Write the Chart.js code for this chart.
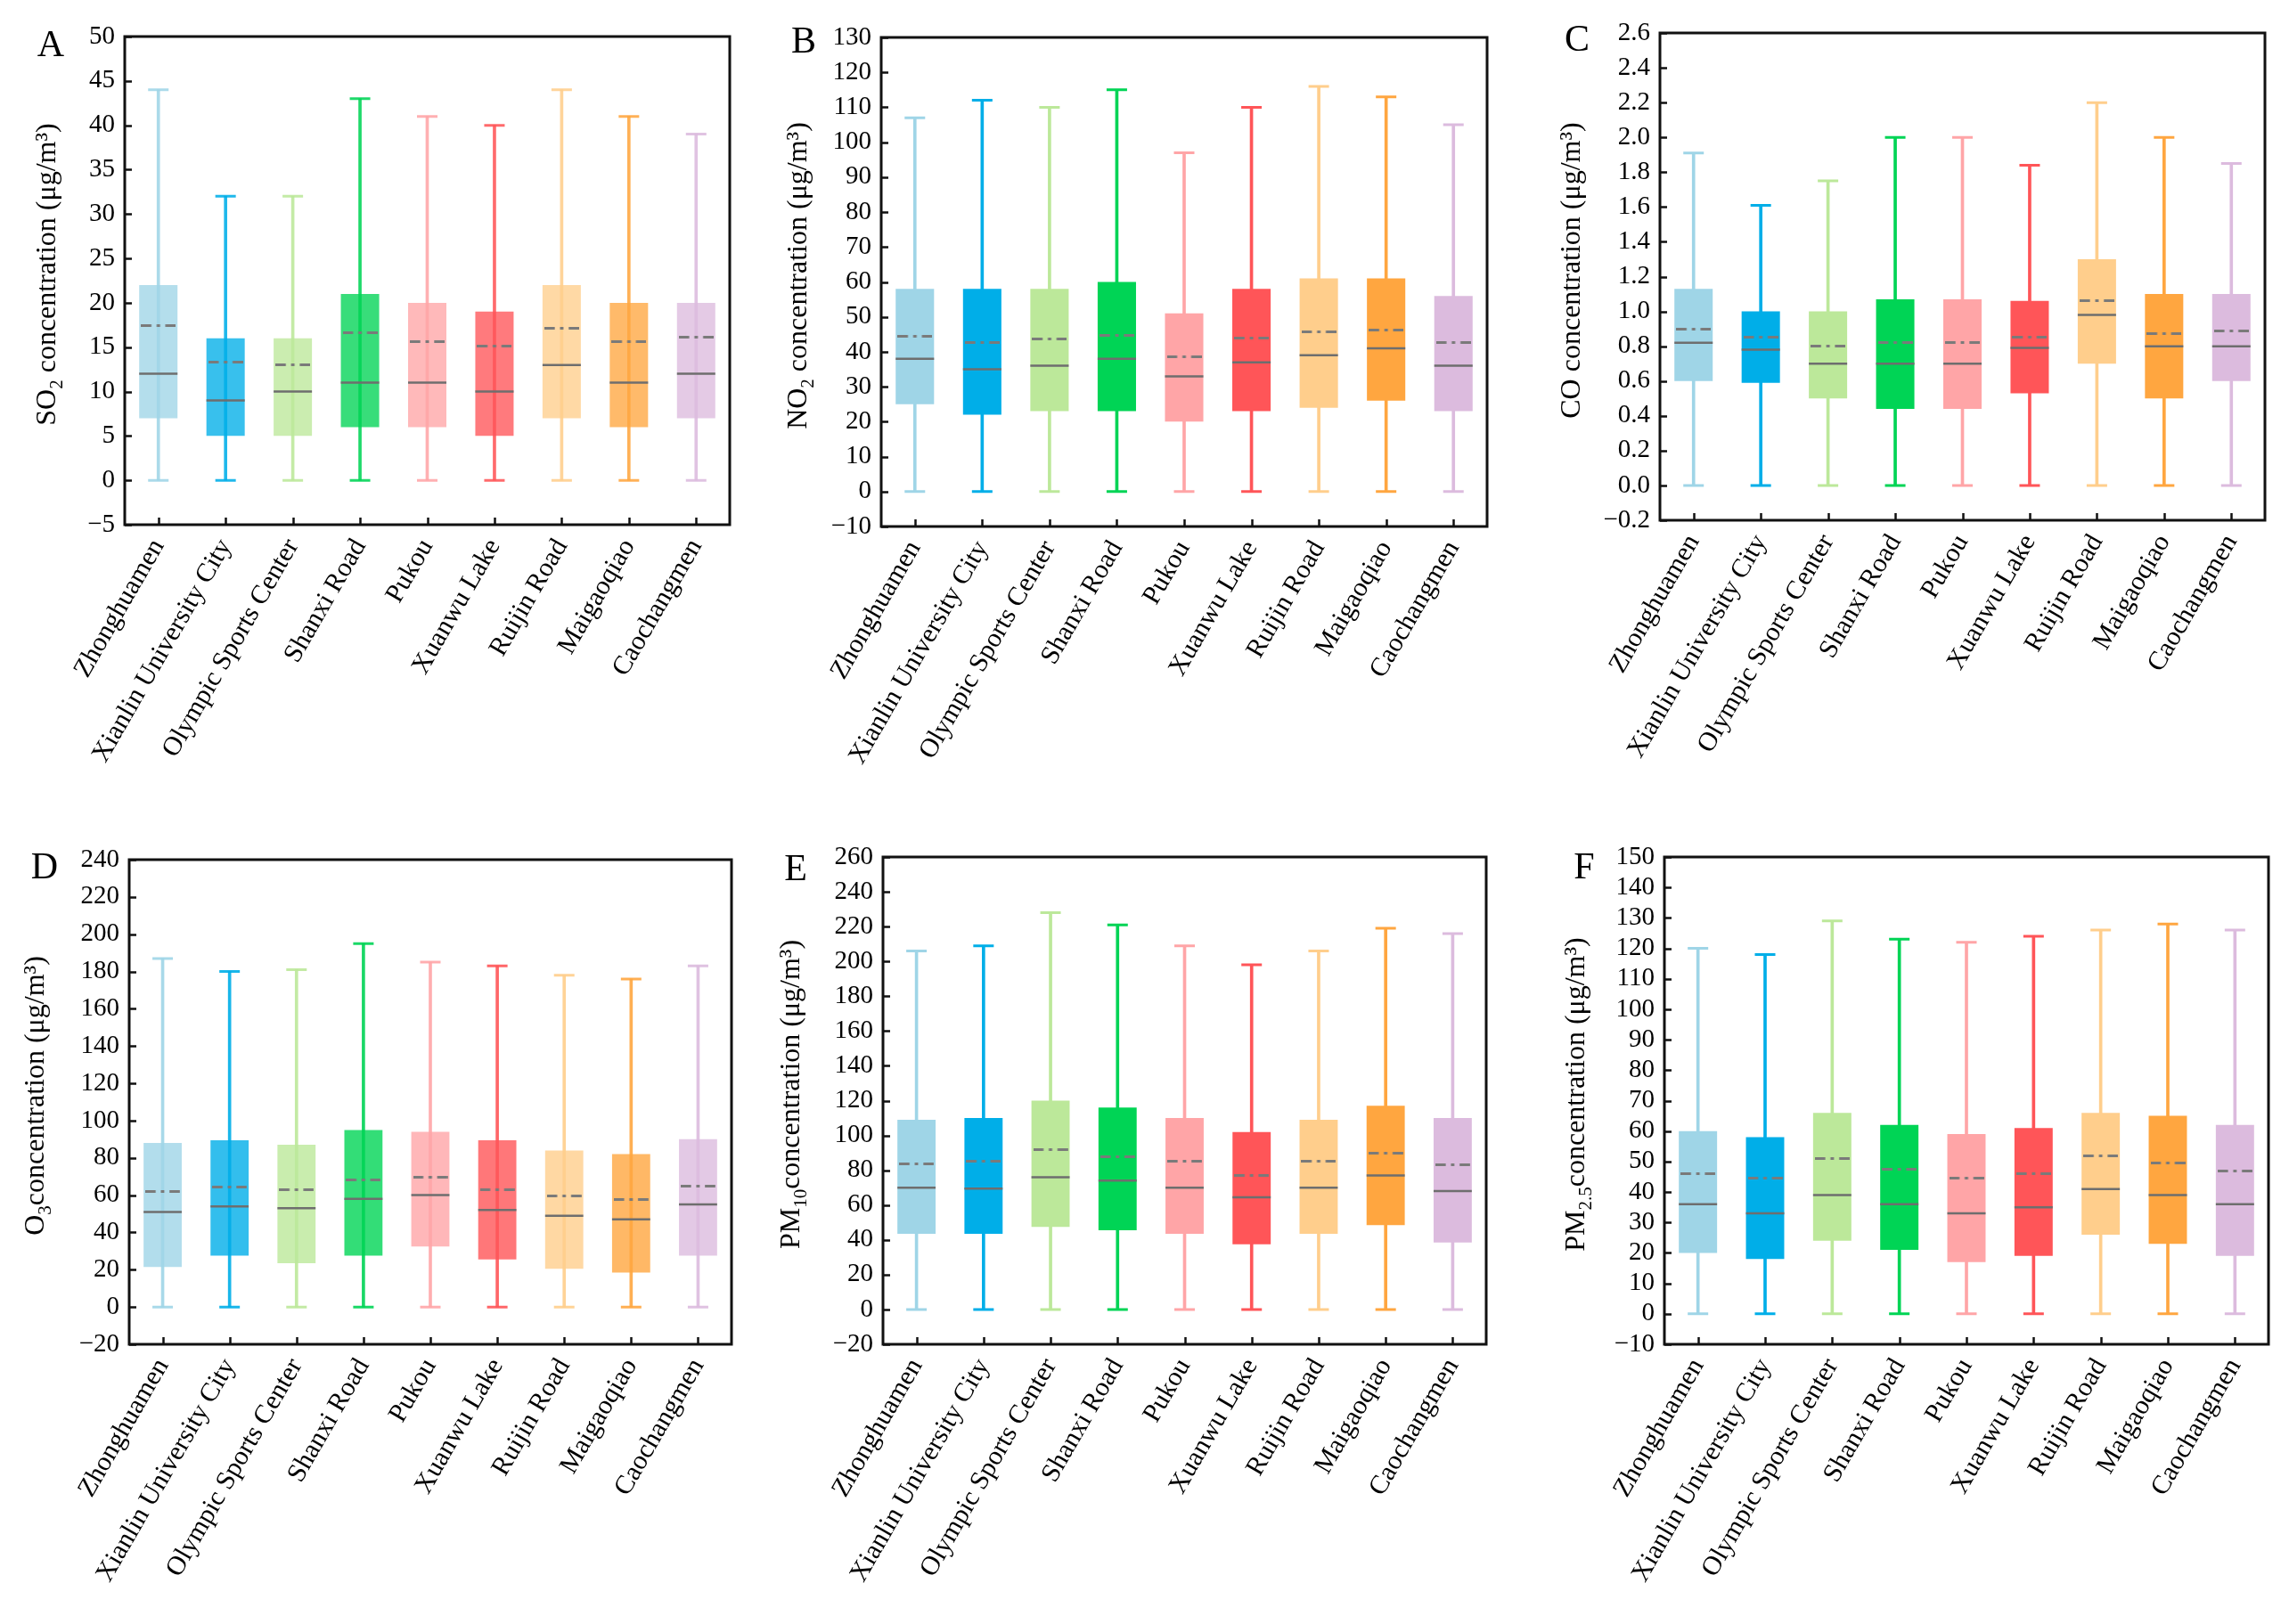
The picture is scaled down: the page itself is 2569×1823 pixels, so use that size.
<!DOCTYPE html>
<html><head><meta charset="utf-8">
<script src="https://cdn.jsdelivr.net/npm/chart.js@4.4.1/dist/chart.umd.min.js"></script>
<style>
html,body{margin:0;padding:0;background:#fff;overflow:hidden}
#wrap{position:relative;width:2569px;height:1823px;background:#fff}
#wrap canvas{position:absolute}
</style></head>
<body><div id="wrap"></div>
<script>
// ---------- categories ----------
const stations = ['Zhonghuamen','Xianlin University City','Olympic Sports Center','Shanxi Road','Pukou','Xuanwu Lake','Ruijin Road','Maigaoqiao','Caochangmen'];

// ---------- A: SO2 ----------
const so2Min    = [0,0,0,0,0,0,0,0,0];
const so2Q1     = [7,5,5,6,6,5,7,6,7];
const so2Median = [12,9,10,11,11,10,13,11,12];
const so2Mean   = [17.4,13.3,13.0,16.6,15.6,15.1,17.1,15.6,16.1];
const so2Q3     = [22,16,16,21,20,19,22,20,20];
const so2Max    = [44,32,32,43,41,40,44,41,39];
const so2Ticks  = [-5,0,5,10,15,20,25,30,35,40,45,50];

// ---------- B: NO2 ----------
const no2Min    = [0,0,0,0,0,0,0,0,0];
const no2Q1     = [25,22,23,23,20,23,24,26,23];
const no2Median = [38,35,36,38,33,37,39,41,36];
const no2Mean   = [44.5,42.6,43.6,44.8,38.5,44.0,45.6,46.3,42.6];
const no2Q3     = [58,58,58,60,51,58,61,61,56];
const no2Max    = [107,112,110,115,97,110,116,113,105];
const no2Ticks  = [-10,0,10,20,30,40,50,60,70,80,90,100,110,120,130];

// ---------- C: CO ----------
const coMin    = [0,0,0,0,0,0,0,0,0];
const coQ1     = [0.60,0.59,0.50,0.44,0.44,0.53,0.70,0.50,0.60];
const coMedian = [0.82,0.78,0.70,0.70,0.70,0.79,0.98,0.80,0.80];
const coMean   = [0.90,0.85,0.80,0.82,0.82,0.85,1.06,0.87,0.89];
const coQ3     = [1.13,1.00,1.00,1.07,1.07,1.06,1.30,1.10,1.10];
const coMax    = [1.91,1.61,1.75,2.00,2.00,1.84,2.20,2.00,1.85];
const coTicks  = [-0.2,0.0,0.2,0.4,0.6,0.8,1.0,1.2,1.4,1.6,1.8,2.0,2.2,2.4,2.6];

// ---------- D: O3 ----------
const o3Min    = [0,0,0,0,0,0,0,0,0];
const o3Q1     = [21.5,27.5,23.5,27.5,32.5,25.5,20.5,18.5,27.5];
const o3Median = [51,54,53,58,60,52,49,47,55];
const o3Mean   = [62,64.5,63,68,69.5,63,59.5,57.5,65];
const o3Q3     = [88,89.5,87,95,94,89.5,84,82,90];
const o3Max    = [187,180,181,195,185,183,178,176,183];
const o3Ticks  = [-20,0,20,40,60,80,100,120,140,160,180,200,220,240];

// ---------- E: PM10 ----------
const pm10Min    = [0,0,0,0,0,0,0,0,0];
const pm10Q1     = [43.5,43.5,47.5,45.5,43.5,37.5,43.5,48.5,38.5];
const pm10Median = [70,69.5,76,74,70,64.5,70,77,68];
const pm10Mean   = [83.5,85,92,88,85,77,85,90,83];
const pm10Q3     = [109,110,120,116,110,102,109,117,110];
const pm10Max    = [206,209,228,221,209,198,206,219,216];
const pm10Ticks  = [-20,0,20,40,60,80,100,120,140,160,180,200,220,240,260];

// ---------- F: PM2.5 ----------
const pm25Min    = [0,0,0,0,0,0,0,0,0];
const pm25Q1     = [20,18,24,21,17,19,26,23,19];
const pm25Median = [36,33,39,36,33,35,41,39,36];
const pm25Mean   = [46,44.5,51,47.5,44.5,46,52,49.5,47];
const pm25Q3     = [60,58,66,62,59,61,66,65,62];
const pm25Max    = [120,118,129,123,122,124,126,128,126];
const pm25Ticks  = [-10,0,10,20,30,40,50,60,70,80,90,100,110,120,130,140,150];

// ---------- styles ----------
const stationColors = ['#9fd5e7','#00aee8','#bce89a','#00d455','#ffa5a7','#ff5558','#ffce8c','#ffa640','#dcbbde'];
const FONT = "'Liberation Serif', 'Times New Roman', serif";
const BOX_FRAC = 0.57;
const CAP_HALF = 11.5;

function hexA(hex, a) {
  const n = parseInt(hex.slice(1), 16);
  return `rgba(${(n>>16)&255},${(n>>8)&255},${n&255},${a})`;
}
function dashDotImage(w, color) {
  const c = document.createElement('canvas');
  c.width = Math.round(w); c.height = 3;
  const g = c.getContext('2d');
  g.fillStyle = color;
  const d = w * 0.3, dot = w * 0.1;
  g.fillRect(0, 0, d, 3);
  g.fillRect(w / 2 - dot / 2, 0, dot, 3);
  g.fillRect(w - d, 0, d, 3);
  return c;
}

const panels = [
  {letter:'A', title:[['SO',0],['2',1],[' concentration (μg/m³)',0]], L:140, T:41, R:819, B:589, letterDx:-83, letterDy:11, titleDx:-86, dec:0, alpha:0.78,
   min:so2Min, q1:so2Q1, med:so2Median, mean:so2Mean, q3:so2Q3, max:so2Max, ticks:so2Ticks},
  {letter:'B', title:[['NO',0],['2',1],[' concentration (μg/m³)',0]], L:989, T:42, R:1669, B:591, letterDx:-87, letterDy:6, titleDx:-92, dec:0, alpha:1,
   min:no2Min, q1:no2Q1, med:no2Median, mean:no2Mean, q3:no2Q3, max:no2Max, ticks:no2Ticks},
  {letter:'C', title:[['CO concentration (μg/m³)',0]], L:1863, T:37, R:2542, B:584, letterDx:-93, letterDy:9, titleDx:-98, dec:1, alpha:1,
   min:coMin, q1:coQ1, med:coMedian, mean:coMean, q3:coQ3, max:coMax, ticks:coTicks},
  {letter:'D', title:[['O',0],['3',1],['concentration (μg/m³)',0]], L:145, T:965, R:821, B:1509, letterDx:-95, letterDy:10, titleDx:-104, dec:0, alpha:0.8,
   min:o3Min, q1:o3Q1, med:o3Median, mean:o3Mean, q3:o3Q3, max:o3Max, ticks:o3Ticks},
  {letter:'E', title:[['PM',0],['10',1],['concentration (μg/m³)',0]], L:991, T:962, R:1668, B:1509, letterDx:-98, letterDy:15, titleDx:-102, dec:0, alpha:1,
   min:pm10Min, q1:pm10Q1, med:pm10Median, mean:pm10Mean, q3:pm10Q3, max:pm10Max, ticks:pm10Ticks},
  {letter:'F', title:[['PM',0],['2.5',1],['concentration (μg/m³)',0]], L:1868, T:962, R:2546, B:1509, letterDx:-90, letterDy:13, titleDx:-98, dec:0, alpha:1,
   min:pm25Min, q1:pm25Q1, med:pm25Median, mean:pm25Mean, q3:pm25Q3, max:pm25Max, ticks:pm25Ticks}
];

const decoPlugin = {
  id: 'deco',
  afterDraw(chart) {
    const p = chart.options.plugins.deco;
    const ctx = chart.ctx, a = chart.chartArea;
    const xs = chart.scales.x, ys = chart.scales.y;
    ctx.save();
    // inward ticks
    ctx.strokeStyle = '#111'; ctx.lineWidth = 2.5;
    ys.ticks.forEach(t => {
      const y = Math.round(ys.getPixelForValue(t.value)) + 0.5;
      ctx.beginPath(); ctx.moveTo(a.left, y); ctx.lineTo(a.left + 8, y); ctx.stroke();
    });
    for (let i = 0; i < stations.length; i++) {
      const x = Math.round(xs.getPixelForValue(i)) + 0.5;
      ctx.beginPath(); ctx.moveTo(x, a.bottom); ctx.lineTo(x, a.bottom - 8); ctx.stroke();
    }
    // frame
    ctx.lineWidth = 3; ctx.strokeStyle = '#111';
    ctx.strokeRect(a.left, a.top, a.right - a.left, a.bottom - a.top);
    // letter
    ctx.fillStyle = '#000';
    ctx.font = `42px ${FONT}`;
    ctx.textAlign = 'center'; ctx.textBaseline = 'middle';
    ctx.fillText(p.letter, a.left + p.letterDx, a.top + p.letterDy);
    // y title with subscripts
    const mainF = `32px ${FONT}`, subF = `21px ${FONT}`;
    let total = 0;
    p.title.forEach(([t, s]) => { ctx.font = s ? subF : mainF; total += ctx.measureText(t).width; });
    ctx.translate(a.left + p.titleDx, (a.top + a.bottom) / 2 - 7);
    ctx.rotate(-Math.PI / 2);
    ctx.textAlign = 'left'; ctx.textBaseline = 'middle';
    let x = -total / 2;
    p.title.forEach(([t, s]) => {
      ctx.font = s ? subF : mainF;
      ctx.fillText(t, x, s ? 10 : 0);
      x += ctx.measureText(t).width;
    });
    ctx.restore();
  }
};

const wrap = document.getElementById('wrap');
panels.forEach(p => {
  const padL = 150, padT = 45, padR = 20, xH = 300;
  const cw = (p.R - p.L) + padL + padR;
  const ch = (p.B - p.T) + padT + xH;
  const cv = document.createElement('canvas');
  cv.width = cw; cv.height = ch;
  cv.style.left = (p.L - padL) + 'px'; cv.style.top = (p.T - padT) + 'px';
  cv.style.width = cw + 'px'; cv.style.height = ch + 'px';
  wrap.appendChild(cv);

  const boxW = (p.R - p.L) / stations.length * BOX_FRAC;
  const meanImg = dashDotImage(boxW - 4, '#7a7a7a');
  const n = stations.length;
  const step = p.ticks[1] - p.ticks[0];
  const lineCol = stationColors.map(c => hexA(c, Math.min(1, p.alpha + 0.1)));

  new Chart(cv, {
    type: 'bar',
    data: {
      labels: stations,
      datasets: [
        { // whiskers
          type: 'bar', order: 5, grouped: false,
          data: stations.map((_, i) => [p.min[i], p.max[i]]),
          backgroundColor: lineCol,
          barThickness: 3, borderWidth: 0
        },
        { // boxes
          type: 'bar', order: 4, grouped: false,
          data: stations.map((_, i) => [p.q1[i], p.q3[i]]),
          backgroundColor: stationColors.map(c => hexA(c, p.alpha)),
          barPercentage: BOX_FRAC, categoryPercentage: 1, borderWidth: 0
        },
        { // caps at max
          type: 'line', order: 3, showLine: false, data: p.max,
          pointStyle: 'line', pointRadius: CAP_HALF, pointBorderWidth: 3,
          pointBorderColor: lineCol, pointBackgroundColor: 'transparent'
        },
        { // caps at min
          type: 'line', order: 3, showLine: false, data: p.min,
          pointStyle: 'line', pointRadius: CAP_HALF, pointBorderWidth: 3,
          pointBorderColor: lineCol, pointBackgroundColor: 'transparent'
        },
        { // median
          type: 'line', order: 2, showLine: false, data: p.med,
          pointStyle: 'line',
          pointRadius: (ctx) => ctx.chart.scales.x.width / n * BOX_FRAC / 2,
          pointBorderWidth: 2.5, pointBorderColor: '#6e6e6e'
        },
        { // mean (dash-dot)
          type: 'line', order: 1, showLine: false, data: p.mean,
          pointStyle: meanImg, pointRadius: 3
        }
      ]
    },
    options: {
      responsive: false, animation: false, devicePixelRatio: 1,
      layout: { padding: { left: 0, top: padT, right: padR, bottom: 0 } },
      plugins: { legend: { display: false }, tooltip: { enabled: false }, deco: p },
      scales: {
        x: {
          type: 'category', offset: true,
          grid: { display: false, drawTicks: false }, border: { display: false },
          ticks: { autoSkip: false, maxRotation: 60, minRotation: 60, padding: 10,
                   color: '#000', font: { family: FONT, size: 30 } },
          afterFit: (s) => { s.height = xH; }
        },
        y: {
          min: p.ticks[0], max: p.ticks[p.ticks.length - 1],
          grid: { display: false, drawTicks: false }, border: { display: false },
          ticks: { autoSkip: false, stepSize: step, padding: 11, color: '#000', font: { family: FONT, size: 29 },
                   callback: (v) => Number(v).toFixed(p.dec).replace('-', '\u2212') },
          afterBuildTicks: (s) => { s.ticks = p.ticks.map(v => ({ value: v })); },
          afterFit: (s) => { s.width = padL; }
        }
      }
    },
    plugins: [decoPlugin]
  });
});
</script>
</body></html>
